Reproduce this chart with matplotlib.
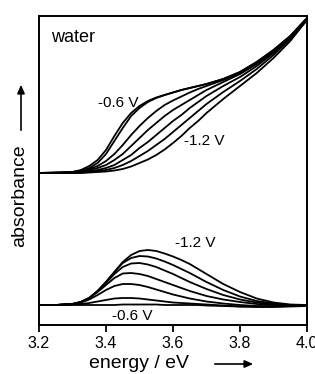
import matplotlib
matplotlib.use("Agg")
import matplotlib.pyplot as plt
import numpy as np

plt.rcParams['font.family'] = ['Liberation Sans', 'DejaVu Sans']

# Energy grid (eV)
energy = [3.20, 3.25, 3.30, 3.325, 3.35, 3.375, 3.40, 3.425, 3.45, 3.475, 3.50, 3.525,
          3.55, 3.575, 3.60, 3.625, 3.65, 3.675, 3.70, 3.75, 3.80, 3.85, 3.90, 3.95, 4.00]

potentials = ["-0.6 V", "-0.7 V", "-0.8 V", "-0.9 V", "-1.0 V", "-1.1 V", "-1.2 V"]

# Absorption spectra (arbitrary units, relative to value at 3.2 eV)
abs_m06 = [0, 0.5, 1, 3, 7, 13, 23, 37, 50, 60, 67, 72, 75.5, 78, 80.5, 83, 85, 87, 89, 94, 101, 111, 123, 137, 155]
abs_m07 = [0, 0.5, 1, 2, 5, 10, 19, 32, 45, 57, 65, 71, 75, 78, 80.5, 83, 85, 87, 89, 94, 101, 111, 123, 137, 155]
abs_m08 = [0, 0, 1, 2, 4, 7, 12, 19, 28, 38, 47, 55, 62, 68, 72.5, 76.5, 80.5, 84, 87, 93, 100, 110, 122, 136, 154]
abs_m09 = [0, 0, 0.5, 1, 3, 5, 8, 13, 19, 27, 35, 43, 50, 57, 63, 68, 73, 78, 83, 91, 99, 109, 121, 136, 154]
abs_m10 = [0, 0, 0, 1, 2, 3, 5, 8, 13, 18, 25, 31, 38, 45, 52, 58, 65, 71, 77, 87, 96, 107, 120, 135, 154]
abs_m11 = [0, 0, 0, 0.5, 1, 2, 3, 5, 8, 12, 17, 22, 28, 34, 41, 48, 55, 62, 69, 81, 92, 104, 118, 134, 153]
abs_m12 = [0, 0, 0, 0, 0.5, 1, 1.5, 2.5, 4, 6.5, 10, 13.5, 18, 23.5, 30, 37, 45, 52, 60, 74, 87, 100, 115, 132, 153]

# Difference spectra (arbitrary units)
diff_m06 = [0, 0, 0, 0, 0, 0, 0, 0, 0.5, 0.5, 0.5, 0.5, 0.5, 0, 0, 0, 0, 0, -0.5, -1, -1.5, -1.5, -1, -0.5, 0]
diff_m07 = [0, 0, 0.5, 1, 2, 3.5, 5, 6.5, 7, 7, 6.5, 5.5, 4.5, 3.5, 2.5, 2, 1.5, 1, 0.5, -0.5, -1.5, -2, -2, -1.5, -1]
diff_m08 = [0, 0, 1, 2.5, 5.5, 10, 15, 19, 21, 21, 20, 18, 15.5, 13, 10.5, 8.5, 6.5, 5, 3.5, 1.5, 0, -1, -1.5, -1, -0.5]
diff_m09 = [0, 0, 1, 3, 7, 13, 20, 27, 31.5, 32, 31, 29, 26, 23, 20, 17, 14, 11.5, 9, 5.5, 3, 1, 0, 0, 0]
diff_m10 = [0, 0, 1, 3, 7, 14, 22, 31, 38, 41.5, 42, 40.5, 38, 34.5, 31, 27, 23, 19.5, 16, 10, 5.5, 2.5, 0.5, 0, 0]
diff_m11 = [0, 0, 1, 3, 7, 14, 23, 33, 42, 47, 49, 48.5, 46.5, 43.5, 40, 36, 32, 27.5, 23, 15, 8.5, 4, 1.5, 0, 0]
diff_m12 = [0, 0, 1, 3, 7, 14, 23, 33, 43, 50, 54, 55, 54, 51.5, 48.5, 45, 41, 36, 31, 21, 13, 6.5, 2.5, 0.5, 0]

abs_spectra = [abs_m06, abs_m07, abs_m08, abs_m09, abs_m10, abs_m11, abs_m12]
diff_spectra = [diff_m06, diff_m07, diff_m08, diff_m09, diff_m10, diff_m11, diff_m12]

xticks = [3.2, 3.4, 3.6, 3.8, 4.0]

UPPER_OFFSET = 152
LOWER_OFFSET = 20

W, H = 315, 374
fig = plt.figure(figsize=(W / 100, H / 100), dpi=100)
ax = fig.add_axes([39 / W, (H - 325) / H, (307 - 39) / W, (325 - 16) / H])

e = np.array(energy)
for s in abs_spectra:
    ax.plot(e, np.array(s) + UPPER_OFFSET, color='black', lw=1.3, solid_joinstyle='round')
for s in diff_spectra:
    ax.plot(e, np.array(s) + LOWER_OFFSET, color='black', lw=1.3, solid_joinstyle='round')

ax.set_xlim(3.2, 4.0)
ax.set_ylim(0, 309)
ax.set_xticks(xticks)
ax.set_xticklabels([f"{t:.1f}" for t in xticks])
ax.set_yticks([])
ax.tick_params(axis='x', direction='out', length=5, width=1.3, labelsize=11.5, pad=3)
for sp in ax.spines.values():
    sp.set_linewidth(1.4)

fs = 11
ax.text(3.236, 283, "water", fontsize=13, ha='left', va='baseline')
ax.text(3.377, 218, potentials[0], fontsize=fs, ha='left', va='baseline')
ax.text(3.634, 180, potentials[-1], fontsize=fs, ha='left', va='baseline')
ax.text(3.607, 78, potentials[-1], fontsize=fs, ha='left', va='baseline')
ax.text(3.419, 5, potentials[0], fontsize=fs, ha='left', va='baseline')

# axis labels with arrows
fig.text(89 / W, 1 - 368 / H, "energy / eV", fontsize=14, ha='left', va='baseline')
fig.add_artist(matplotlib.patches.FancyArrowPatch(
    (212 / W, 1 - 364 / H), (256 / W, 1 - 364 / H), transform=fig.transFigure,
    arrowstyle='-|>,head_length=5,head_width=2.2', color='black', lw=1.2, mutation_scale=1))
fig.text(20 / W, 1 - 196 / H, "absorbance", fontsize=14, rotation=90, ha='center', va='center')
fig.add_artist(matplotlib.patches.FancyArrowPatch(
    (21 / W, 1 - 133 / H), (21 / W, 1 - 82 / H), transform=fig.transFigure,
    arrowstyle='-|>,head_length=5,head_width=2.2', color='black', lw=1.2, mutation_scale=1))

fig.savefig("out.png", dpi=100)
